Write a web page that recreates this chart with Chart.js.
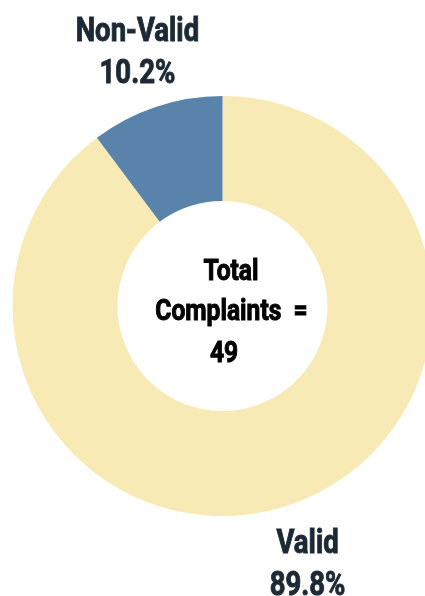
<!DOCTYPE html>
<html>
<head>
<meta charset="utf-8">
<script src="https://cdn.jsdelivr.net/npm/chart.js@4"></script>
<style>
  html, body { margin: 0; padding: 0; background: #ffffff; overflow: hidden; }
  #wrap { width: 425px; height: 596px; }
</style>
</head>
<body>
<div id="wrap"><canvas id="c" width="425" height="596"></canvas></div>
<script>
const categories = ['Valid', 'Non-Valid'];
const counts = [44, 5];
const percentLabels = ['89.8%', '10.2%'];
const centerLines = ['Total', 'Complaints  =', '49'];

const sliceColors = ['#f8eab4', '#5a83ab'];
const labelColor = '#1d2a35';
const SX = 0.81;

function drawScaled(ctx, text, x, y, sx) {
  ctx.save();
  ctx.translate(x, y);
  ctx.scale(sx, 1);
  ctx.fillText(text, 0, 0);
  ctx.lineWidth = 1;
  ctx.strokeText(text, 0, 0);
  ctx.restore();
}

const labelPlugin = {
  id: 'labelPlugin',
  afterDraw(chart) {
    const ctx = chart.ctx;
    const meta = chart.getDatasetMeta(0);
    ctx.save();
    ctx.textAlign = 'center';
    ctx.textBaseline = 'alphabetic';
    ctx.fillStyle = labelColor;
    ctx.strokeStyle = labelColor;
    ctx.font = 'bold 34px Roboto';
    meta.data.forEach((arc, i) => {
      const p = arc.getProps(['x', 'y', 'startAngle', 'endAngle', 'outerRadius'], true);
      const mid = (p.startAngle + p.endAngle) / 2;
      const r = p.outerRadius + 60;
      const px = p.x + Math.cos(mid) * r;
      const py = p.y + Math.sin(mid) * r;
      drawScaled(ctx, categories[i], px, py - 9, SX);
      drawScaled(ctx, percentLabels[i], px, py + 33, SX);
    });
    // center text
    const a0 = meta.data[0];
    const cx = a0.x, cy = a0.y;
    ctx.fillStyle = '#000000';
    ctx.strokeStyle = '#000000';
    ctx.font = 'bold 30px Roboto';
    const offs = [[8.5, -26], [9, 14], [1.5, 56]];
    centerLines.forEach((t, i) => {
      drawScaled(ctx, t, cx + offs[i][0], cy + offs[i][1], SX + 0.01);
    });
    ctx.restore();
  }
};

new Chart(document.getElementById('c'), {
  type: 'doughnut',
  data: {
    labels: categories,
    datasets: [{
      data: counts,
      backgroundColor: sliceColors,
      borderWidth: 0,
      radius: 210,
    }]
  },
  options: {
    responsive: false,
    animation: false,
    cutout: '50%',
    layout: { padding: { left: 20, right: 0, top: 16, bottom: 0 } },
    plugins: {
      legend: { display: false },
      tooltip: { enabled: false }
    }
  },
  plugins: [labelPlugin]
});
</script>
</body>
</html>
